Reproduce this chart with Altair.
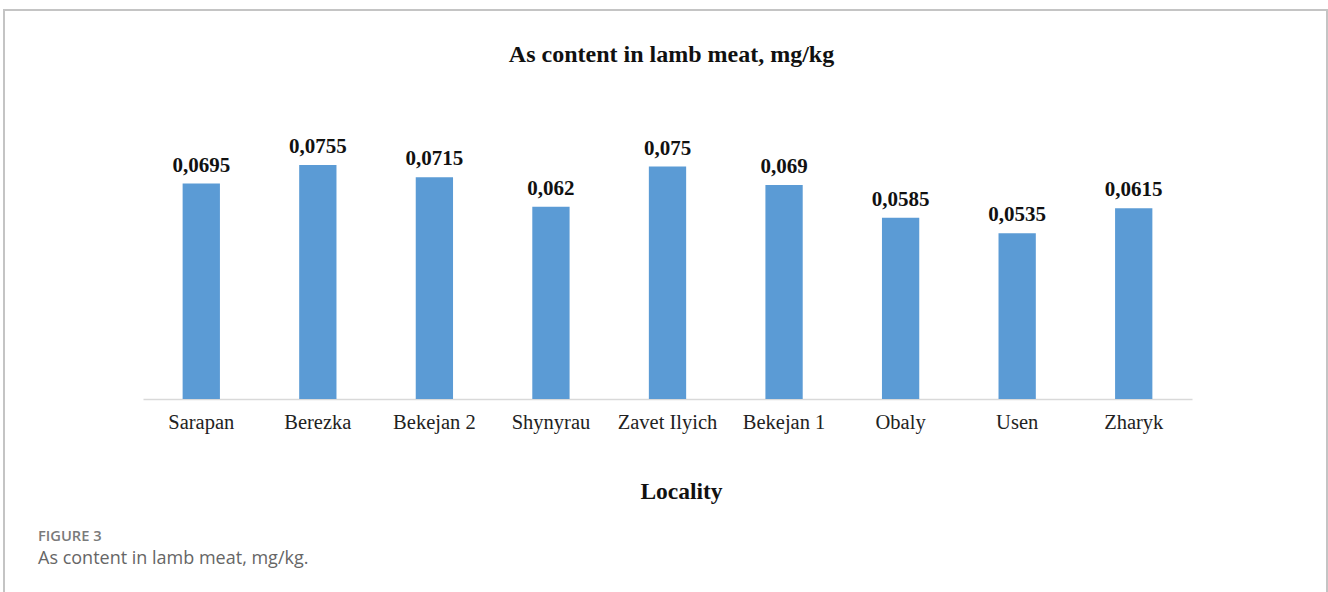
import altair as alt
import pandas as pd

localities = ["Sarapan", "Berezka", "Bekejan 2", "Shynyrau", "Zavet Ilyich",
              "Bekejan 1", "Obaly", "Usen", "Zharyk"]
values = [0.0695, 0.0755, 0.0715, 0.062, 0.075, 0.069, 0.0585, 0.0535, 0.0615]

chart_title = "As content in lamb meat, mg/kg"
x_title = "Locality"
fig_label = "FIGURE 3"
fig_caption = "As content in lamb meat, mg/kg."

df = pd.DataFrame({"locality": localities, "value": values})

SERIF = "Liberation Serif"
W, H = 1049, 248
PL, PT = 143, 151

x_enc = alt.X(
    "locality:N", sort=localities,
    scale=alt.Scale(paddingInner=0.68, paddingOuter=0.34),
    axis=alt.Axis(
        title=x_title, labelAngle=0, ticks=False, grid=False,
        domainColor="#d9d9d9", domainWidth=1.5,
        labelFont=SERIF, labelFontSize=20.5, labelColor="#222222",
        labelBaseline="alphabetic", labelPadding=29,
        titleFont=SERIF, titleFontSize=23.5, titleFontWeight="bold",
        titleColor="#111111", titleX=538, titleY=99,
        titleBaseline="alphabetic", titleAlign="center",
    ),
)
y_enc = alt.Y("value:Q", scale=alt.Scale(domain=[0, 0.08], nice=False), axis=None)

base = alt.Chart(df).transform_calculate(
    label="replace(toString(datum.value), '.', ',')"
)

bars = base.mark_bar(color="#5B9BD5").encode(x=x_enc, y=y_enc)
labels = base.mark_text(
    font=SERIF, fontSize=21, fontWeight="bold", color="#111111",
    baseline="alphabetic", dy=-12,
).encode(x=alt.X("locality:N", sort=localities), y=y_enc, text="label:N")

one = pd.DataFrame({"t": [chart_title]})
title_mark = alt.Chart(one).mark_text(
    font=SERIF, fontSize=24, fontWeight="bold", color="#111111",
    align="center", baseline="alphabetic",
).encode(text="t:N", x=alt.value(528.5), y=alt.value(62 - PT))

frame = alt.Chart(pd.DataFrame({"a": [0]})).mark_rect(
    fill="transparent", stroke="#c4c4c4", strokeWidth=2
).encode(x=alt.value(4 - PL), x2=alt.value(1327 - PL),
         y=alt.value(10 - PT), y2=alt.value(640 - PT))

cap1 = alt.Chart(pd.DataFrame({"t": [fig_label]})).mark_text(
    font="Open Sans", fontSize=14.7, fontWeight=600, color="#7a7a7a", align="left",
    baseline="alphabetic",
).encode(text="t:N", x=alt.value(38 - PL), y=alt.value(541 - PT))

cap2 = alt.Chart(pd.DataFrame({"t": [fig_caption]})).mark_text(
    font="Open Sans", fontSize=18, color="#666666", align="left",
    baseline="alphabetic",
).encode(text="t:N", x=alt.value(38 - PL), y=alt.value(564 - PT))

chart = alt.layer(frame, bars, labels, title_mark, cap1, cap2).properties(
    width=W, height=H,
    autosize=alt.AutoSizeParams(type="none"),
    padding={"left": PL, "top": PT, "right": 1328 - PL - W, "bottom": 592 - PT - H},
    background="white",
).configure_view(stroke=None)

chart.save("out.html", embed_options={"renderer": "svg", "actions": False})
